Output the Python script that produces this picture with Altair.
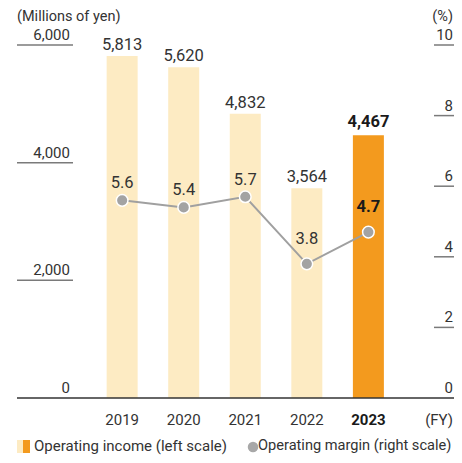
import altair as alt
import pandas as pd

years = [2019, 2020, 2021, 2022, 2023]
income = [5813, 5620, 4832, 3564, 4467]
income_labels = ["5,813", "5,620", "4,832", "3,564", "4,467"]
margin = [5.6, 5.4, 5.7, 3.8, 4.7]
margin_labels = ["5.6", "5.4", "5.7", "3.8", "4.7"]
left_ticks = [0, 2000, 4000, 6000]
left_tick_labels = ["0", "2,000", "4,000", "6,000"]
right_ticks = [0, 2, 4, 6, 8, 10]
right_tick_labels = ["0", "2", "4", "6", "8", "10"]

LIGHT = "#FDEBC3"
ORANGE = "#F39A1E"
GREY = "#A0A0A0"
TXT = "#333333"
BOLD = "#1a1a1a"
NUM = "Roboto"
FONT = "Roboto"

df = pd.DataFrame({"year": years, "income": income, "income_label": income_labels,
                   "margin": margin, "margin_label": margin_labels})
lt = pd.DataFrame({"v": left_ticks, "label": left_tick_labels})
rt = pd.DataFrame({"v": right_ticks, "label": right_tick_labels})

W, H = 437, 353
xscale = alt.Scale(domain=[2017.373, 2024.3095], nice=False, zero=False)
yl = alt.Scale(domain=[0, 6000], nice=False)
yr = alt.Scale(domain=[0, 10], nice=False)
is23 = alt.datum.year == 2023
not23 = alt.datum.year != 2023

X = alt.X("year:Q", scale=xscale, axis=None)
base = alt.Chart(df)

# ---- bars and their labels (left scale)
bars = base.mark_bar(size=31).encode(
    x=X, y=alt.Y("income:Q", scale=yl, axis=None),
    color=alt.condition(is23, alt.value(ORANGE), alt.value(LIGHT)))
bl_n = base.transform_filter(not23).mark_text(
    baseline="alphabetic", dy=-6, font=NUM, fontSize=16.5, color=TXT).encode(
    x=X, y=alt.Y("income:Q", scale=yl, axis=None), text="income_label:N")
bl_b = base.transform_filter(is23).mark_text(
    baseline="alphabetic", dy=-8, font=NUM, fontSize=16.5, fontWeight="bold", color=BOLD).encode(
    x=X, y=alt.Y("income:Q", scale=yl, axis=None), text="income_label:N")

lt_rule = alt.Chart(lt).transform_filter(alt.datum.v > 0).mark_rule(
    color="#7a7a7a", strokeWidth=1.5).encode(
    y=alt.Y("v:Q", scale=yl, axis=None), x=alt.value(0), x2=alt.value(56))
lt_text = alt.Chart(lt).mark_text(align="right", baseline="alphabetic", dy=-5, font=NUM,
                                  fontSize=15, color=TXT).encode(
    y=alt.Y("v:Q", scale=yl, axis=None), x=alt.value(53), text="label:N")
baseline = alt.Chart(lt).transform_filter(alt.datum.v == 0).mark_rule(
    color="#333333", strokeWidth=1.5).encode(
    y=alt.Y("v:Q", scale=yl, axis=None), x=alt.value(0), x2=alt.value(W))

left_layer = alt.layer(bars, lt_rule, lt_text, baseline, bl_n, bl_b)

# ---- margin line (right scale)
Yr = alt.Y("margin:Q", scale=yr, axis=None)
line = base.mark_line(color=GREY, strokeWidth=2).encode(x=X, y=Yr)
pts = base.mark_point(filled=True, size=135, color="#A3A3A3", stroke="white",
                      strokeWidth=1.5, opacity=1).encode(x=X, y=Yr)
pl_a = base.transform_filter(alt.datum.year < 2022).mark_text(
    baseline="alphabetic", dy=-12, font=NUM, fontSize=16.5, color=TXT).encode(
    x=X, y=Yr, text="margin_label:N")
pl_b = base.transform_filter(alt.datum.year == 2022).mark_text(
    baseline="alphabetic", dy=-20, font=NUM, fontSize=16.5, color=TXT).encode(
    x=X, y=Yr, text="margin_label:N")
pl_c = base.transform_filter(is23).mark_text(
    baseline="alphabetic", dy=-20, font=NUM, fontSize=16.5, fontWeight="bold", color=BOLD).encode(
    x=X, y=Yr, text="margin_label:N")
rt_rule = alt.Chart(rt).transform_filter(alt.datum.v > 0).mark_rule(
    color="#7a7a7a", strokeWidth=1.5).encode(
    y=alt.Y("v:Q", scale=yr, axis=None), x=alt.value(417), x2=alt.value(W))
rt_text = alt.Chart(rt).mark_text(align="right", baseline="alphabetic", dy=-5, font=NUM,
                                  fontSize=15, color=TXT).encode(
    y=alt.Y("v:Q", scale=yr, axis=None), x=alt.value(436), text="label:N")

right_layer = alt.layer(rt_rule, rt_text, line, pts, pl_a, pl_b, pl_c)

# ---- x labels
xlab_n = base.transform_filter(not23).mark_text(
    baseline="alphabetic", font=NUM, fontSize=15, color=TXT).encode(
    x=X, y=alt.value(380), text="year:N")
xlab_b = base.transform_filter(is23).mark_text(
    baseline="alphabetic", font=NUM, fontSize=15, fontWeight="bold", color=BOLD).encode(
    x=X, y=alt.value(380), text="year:N")


def note(text, x, y, align, font=FONT, size=15, baseline_="middle"):
    return alt.Chart(pd.DataFrame({"t": [text]})).mark_text(
        align=align, baseline=baseline_, font=font, fontSize=size, color=TXT).encode(
        x=alt.value(x), y=alt.value(y), text="t:N")


notes = alt.layer(
    note("(Millions of yen)", 0, -28, "left", size=14.5),
    note("(%)", 436, -28, "right", size=14.5),
    note("(FY)", 436, 380, "right", size=15, baseline_="alphabetic"),
    note("Operating income (left scale)", 17, 401, "left"),
    note("Operating margin (right scale)", 241, 401, "left", size=14.6),
)

leg_df = pd.DataFrame({"k": ["a"]})
leg_sq1 = alt.Chart(leg_df).mark_rect(color=LIGHT).encode(
    x=alt.value(0), x2=alt.value(6), y=alt.value(395), y2=alt.value(408))
leg_sq2 = alt.Chart(leg_df).mark_rect(color=ORANGE).encode(
    x=alt.value(6), x2=alt.value(13), y=alt.value(395), y2=alt.value(408))
leg_dot = alt.Chart(leg_df).mark_point(filled=True, size=110, color="#A8A8A8", opacity=1).encode(
    x=alt.value(236), y=alt.value(402))

chart = alt.layer(left_layer, right_layer, xlab_n, xlab_b, notes, leg_sq1, leg_sq2, leg_dot).resolve_scale(
    y="independent").properties(
    width=W, height=H, autosize="none",
    padding={"left": 9, "top": 37, "right": 0, "bottom": 57},
).configure_view(stroke=None)

chart.save("out.html", embed_options={"renderer": "svg", "actions": False})
